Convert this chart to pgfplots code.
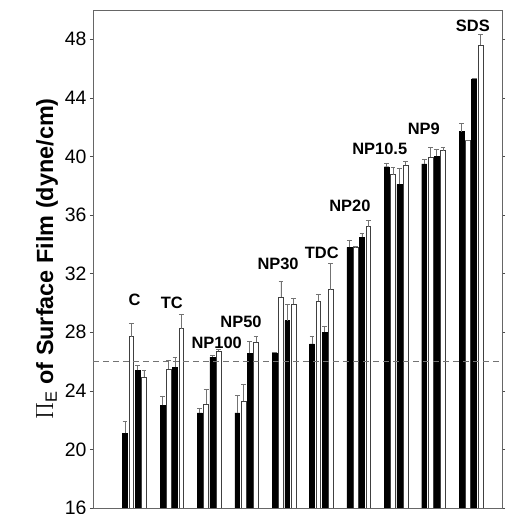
\documentclass[border=0pt]{standalone}
\usepackage{pgfplots}
\pgfplotsset{compat=1.18}
\usepackage{pgfplotstable}
\usepackage{fontspec}
\setmainfont{Liberation Sans}
\pgfplotstableread{
x a ea b eb c ec d ed
0 21.1 0.8 27.7 0.9 25.4 0.35 24.95 0.45
1 23.0 0.65 25.5 0.55 25.6 0.7 28.25 0.95
2 22.5 0.3 23.1 1.0 26.3 0.1 26.7 0.1
3 22.5 1.2 23.3 1.15 26.55 0.8 27.3 0.4
4 26.6 0.0 30.4 1.1 28.8 1.1 29.9 0.4
5 27.2 0.5 30.1 0.5 28.0 0.4 30.9 1.8
6 33.8 0.5 33.8 0.05 34.5 0.25 35.2 0.4
7 39.3 0.2 38.75 0.5 38.1 1.1 39.4 0.25
8 39.5 0.3 39.95 0.65 40.0 0.5 40.4 0.2
9 41.7 0.55 41.1 0.0 45.3 0.0 47.6 0.7
}\data
\pgfplotsset{
 errs/.style={ybar, bar shift=0pt,
  error bars/y dir=plus, error bars/y explicit,
  error bars/error mark=-,
  error bars/error bar style={black!55, line width=0.8pt},
  error bars/error mark options={black!55, line width=0.9pt, mark size=2.4bp, rotate=90}},
}
\begin{document}
\begin{tikzpicture}
\begin{axis}[
 width=409bp, height=498bp, scale only axis,
 xmin=-1.11, xmax=9.83, ymin=16, ymax=50,
 ytick={16,20,...,48}, xtick=\empty,
 tick align=outside, major tick length=3bp,
 y tick style={black!70, line width=0.6pt},
 axis line style={black!60, line width=0.7pt},
 yticklabel style={font=\fontsize{19.5}{20}\selectfont},
 /pgf/number format/assume math mode=true,
 ylabel={$\Pi_{\mathrm{E}}$ of Surface Film (dyne/cm)},
 ylabel style={font=\fontsize{23.5}{24}\selectfont\bfseries},
 bar width=0.13,
]
\addplot[errs, fill=black, draw=black, line width=0.4pt]
  table[x expr=\thisrow{x}-0.252, y=a, y error=ea]{\data};
\addplot[errs, fill=white, draw=black!75, line width=0.6pt]
  table[x expr=\thisrow{x}-0.084, y=b, y error=eb]{\data};
\addplot[errs, fill=black, draw=black, line width=0.4pt]
  table[x expr=\thisrow{x}+0.084, y=c, y error=ec]{\data};
\addplot[errs, fill=white, draw=black!75, line width=0.6pt]
  table[x expr=\thisrow{x}+0.252, y=d, y error=ed]{\data};
\addplot[sharp plot, black!55, line width=0.6pt, dash pattern=on 6bp off 4bp] coordinates {(-1.11,26) (9.83,26)};
\begin{scope}[font=\fontsize{16.5}{17}\selectfont\bfseries]
\node at (axis cs:0,30.2) {C};
\node at (axis cs:1.0,30.0) {TC};
\node at (axis cs:2.2,27.3) {NP100};
\node at (axis cs:2.85,28.7) {NP50};
\node at (axis cs:3.84,32.7) {NP30};
\node at (axis cs:5.01,33.4) {TDC};
\node at (axis cs:5.76,36.6) {NP20};
\node at (axis cs:6.56,40.55) {NP10.5};
\node at (axis cs:7.74,41.9) {NP9};
\node at (axis cs:9.05,48.9) {SDS};
\end{scope}
\coordinate (bl) at (rel axis cs:0,0);
\coordinate (tr) at (rel axis cs:1,1);
\end{axis}
\pgfresetboundingbox
\path[use as bounding box] ([shift={(-93bp,-6bp)}]bl) rectangle ([shift={(4bp,10bp)}]tr);
\end{tikzpicture}
\end{document}
